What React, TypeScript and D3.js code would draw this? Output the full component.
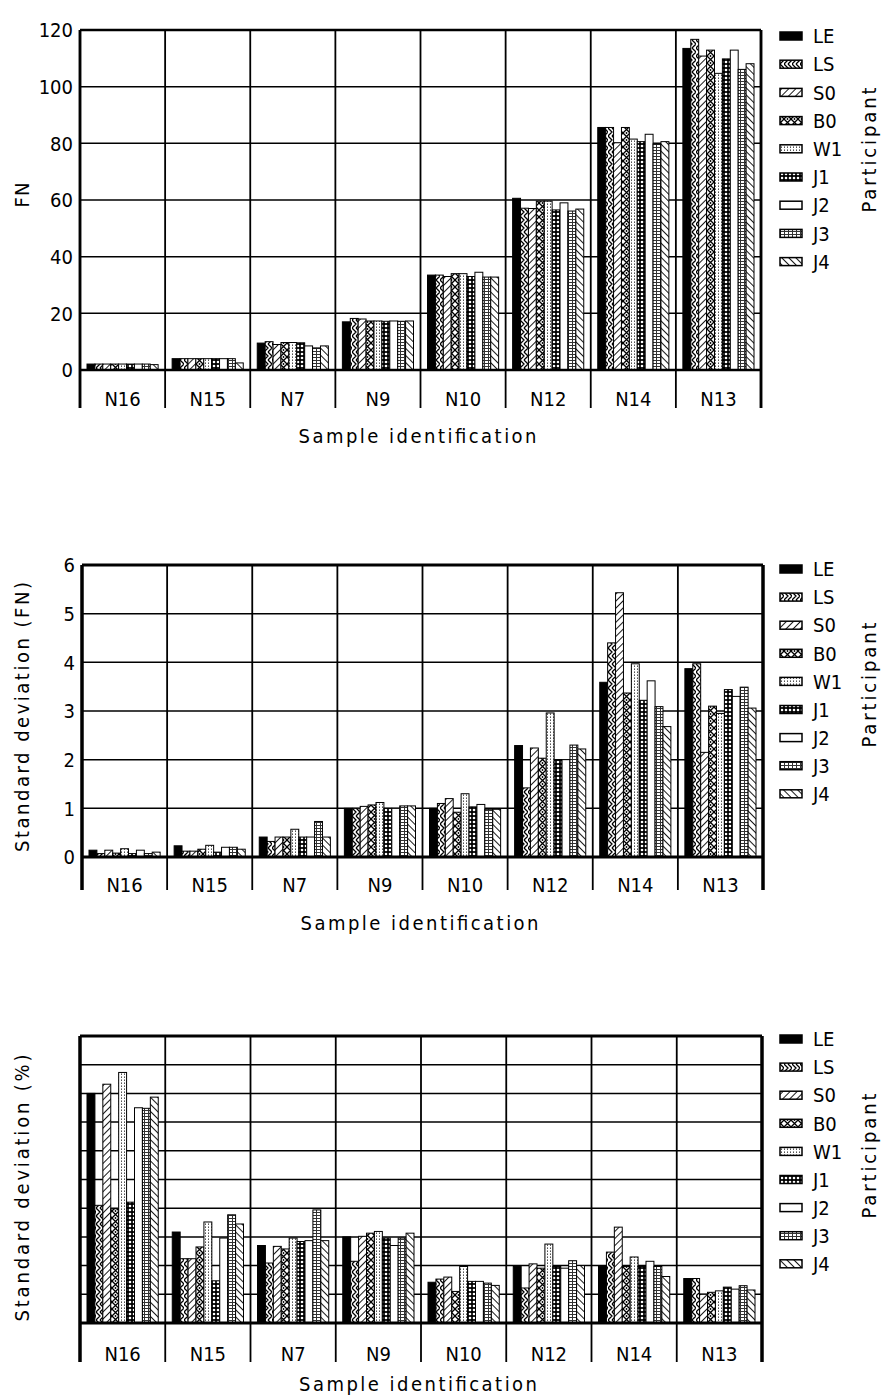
import React from "react";
import * as d3 from "d3";

const categories = ["N16", "N15", "N7", "N9", "N10", "N12", "N14", "N13"];
const participants = ["LE", "LS", "S0", "B0", "W1", "J1", "J2", "J3", "J4"];

// Mean FN, one row per sample (participant order LE..J4)
const fnMeans = [
  [2.1, 2.1, 2.1, 2.1, 2.1, 2.1, 2.1, 2.1, 1.9],
  [4.0, 4.0, 4.0, 4.0, 4.0, 4.0, 4.0, 4.0, 2.5],
  [9.5, 10.0, 9.0, 9.7, 9.7, 9.6, 8.5, 7.8, 8.5],
  [17.0, 18.2, 18.0, 17.3, 17.3, 17.2, 17.3, 17.2, 17.3],
  [33.5, 33.5, 33.0, 34.0, 34.0, 33.0, 34.5, 32.8, 32.8],
  [60.6, 57.1, 57.0, 59.6, 59.6, 56.5, 59.0, 56.1, 56.8],
  [85.6, 85.6, 80.2, 85.6, 81.5, 80.6, 83.2, 79.8, 80.6],
  [113.5, 116.7, 110.8, 112.9, 104.7, 109.8, 112.9, 106.1, 108.1],
];

// Standard deviation (FN)
const fnStdDev = [
  [0.14, 0.07, 0.14, 0.08, 0.17, 0.07, 0.14, 0.07, 0.1],
  [0.23, 0.12, 0.12, 0.16, 0.24, 0.1, 0.2, 0.2, 0.16],
  [0.41, 0.32, 0.41, 0.41, 0.57, 0.41, 0.41, 0.73, 0.41],
  [1.0, 1.0, 1.04, 1.07, 1.12, 1.0, 1.0, 1.05, 1.05],
  [1.0, 1.1, 1.2, 0.92, 1.3, 1.03, 1.08, 0.98, 0.98],
  [2.29, 1.42, 2.24, 2.03, 2.96, 1.99, 2.0, 2.3, 2.22],
  [3.59, 4.4, 5.43, 3.37, 3.97, 3.22, 3.62, 3.09, 2.68],
  [3.87, 3.97, 2.15, 3.1, 2.95, 3.44, 3.3, 3.49, 3.06],
];

// Standard deviation (%) - unlabeled axis, read in grid units
const pctStdDev = [
  [8.0, 4.1, 8.32, 3.98, 8.73, 4.21, 7.5, 7.48, 7.87],
  [3.17, 2.24, 2.24, 2.65, 3.52, 1.47, 2.96, 3.77, 3.45],
  [2.7, 2.09, 2.67, 2.58, 2.96, 2.84, 2.87, 3.94, 2.87],
  [3.0, 2.15, 3.02, 3.13, 3.19, 2.96, 2.7, 2.96, 3.13],
  [1.42, 1.53, 1.6, 1.1, 1.97, 1.45, 1.45, 1.39, 1.31],
  [1.97, 1.22, 2.06, 1.91, 2.75, 1.97, 1.91, 2.17, 2.0],
  [1.97, 2.47, 3.34, 1.97, 2.3, 1.97, 2.15, 1.97, 1.62],
  [1.55, 1.55, 1.0, 1.07, 1.12, 1.25, 1.18, 1.3, 1.15],
];

const fnTicks = [0, 20, 40, 60, 80, 100, 120];
const sdTicks = [0, 1, 2, 3, 4, 5, 6];
const pctGrid = [0, 1, 2, 3, 4, 5, 6, 7, 8, 9, 10];

const FONT = "'DejaVu Sans Condensed', 'DejaVu Sans', sans-serif";

const fills: Record<string, string> = {
  LE: "#000",
  LS: "url(#pLS)",
  S0: "url(#pS0)",
  B0: "url(#pB0)",
  W1: "url(#pW1)",
  J1: "url(#pJ1)",
  J2: "#fff",
  J3: "url(#pJ3)",
  J4: "url(#pJ4)",
};

function Patterns() {
  return (
    <defs>
      <pattern id="pLS" width="8" height="8" patternUnits="userSpaceOnUse">
        <rect width="8" height="8" fill="#fff" />
        <path d="M0,0 L4,4 L0,8 M4,0 L8,4 L4,8" stroke="#000" strokeWidth="1.3" fill="none" />
      </pattern>
      <pattern id="pS0" width="5" height="5" patternUnits="userSpaceOnUse" patternTransform="rotate(45)">
        <rect width="5" height="5" fill="#fff" />
        <line x1="0" y1="0" x2="0" y2="5" stroke="#000" strokeWidth="1.8" />
      </pattern>
      <pattern id="pJ4" width="5" height="5" patternUnits="userSpaceOnUse" patternTransform="rotate(-45)">
        <rect width="5" height="5" fill="#fff" />
        <line x1="0" y1="0" x2="0" y2="5" stroke="#000" strokeWidth="1.8" />
      </pattern>
      <pattern id="pB0" width="7" height="7" patternUnits="userSpaceOnUse">
        <rect width="7" height="7" fill="#fff" />
        <path d="M0,0 L7,7 M7,0 L0,7" stroke="#000" strokeWidth="1.3" />
        <circle cx="3.5" cy="0" r="0.9" fill="#000" />
        <circle cx="3.5" cy="7" r="0.9" fill="#000" />
      </pattern>
      <pattern id="pW1" width="3" height="3" patternUnits="userSpaceOnUse">
        <rect width="3" height="3" fill="#fff" />
        <rect x="1" y="0" width="1" height="1" fill="#555" />
        <rect x="1" y="2" width="1" height="1" fill="#999" />
      </pattern>
      <pattern id="pJ1" width="4" height="4" patternUnits="userSpaceOnUse">
        <rect width="4" height="4" fill="#000" />
        <circle cx="2" cy="2" r="1.3" fill="#fff" />
      </pattern>
      <pattern id="pJ3" width="4" height="3" patternUnits="userSpaceOnUse">
        <rect width="4" height="3" fill="#fff" />
        <rect x="0" y="0" width="4" height="1" fill="#333" />
        <rect x="0" y="0" width="1" height="3" fill="#333" />
      </pattern>
    </defs>
  );
}

interface PanelProps {
  data: number[][];
  domain: [number, number];
  grid: number[];
  showTickLabels: boolean;
  x0: number;
  x1: number;
  yTop: number;
  yBase: number;
  tickBottom: number;
  catLabelY: number;
  xTitleY: number;
  yTitle: string;
  yTitleLen: number;
  yTitleCenter: number;
  legendY0: number;
  legendStep: number;
  participantY: number;
  frameW: number;
}

function Panel(p: PanelProps) {
  const x = d3.scaleBand<string>().domain(categories).range([p.x0, p.x1]);
  const bw = x.bandwidth();
  const inner = d3.scaleBand<string>().domain(participants).range([7, bw - 7]);
  const y = d3.scaleLinear().domain(p.domain).range([p.yBase, p.yTop]);
  const boundaries = categories.map((c) => x(c) as number).concat([p.x1]);
  return (
    <g>
      {/* horizontal gridlines */}
      {p.grid.map((t) => (
        <line key={"g" + t} x1={p.x0} x2={p.x1} y1={y(t)} y2={y(t)} stroke="#000" strokeWidth={1.5} />
      ))}
      {/* vertical category lines */}
      {boundaries.map((b, i) => (
        <line key={"v" + i} x1={b} x2={b} y1={p.yTop} y2={p.tickBottom} stroke="#000"
          strokeWidth={i === 0 || i === boundaries.length - 1 ? p.frameW : 1.8} />
      ))}
      {/* bars */}
      {categories.map((c, ci) =>
        participants.map((pt, pi) => {
          const v = p.data[ci][pi];
          const bx = (x(c) as number) + (inner(pt) as number);
          return (
            <rect key={c + pt} x={bx} y={y(v)} width={inner.bandwidth()} height={p.yBase - y(v)}
              fill={fills[pt]} stroke="#000" strokeWidth={1} />
          );
        })
      )}
      {/* frame */}
      <line x1={p.x0} x2={p.x1} y1={p.yTop} y2={p.yTop} stroke="#000" strokeWidth={p.frameW} />
      <line x1={p.x0} x2={p.x1} y1={p.yBase} y2={p.yBase} stroke="#000" strokeWidth={p.frameW} />
      <line x1={p.x0} x2={p.x0} y1={p.yTop} y2={p.tickBottom} stroke="#000" strokeWidth={p.frameW} />
      <line x1={p.x1} x2={p.x1} y1={p.yTop} y2={p.tickBottom} stroke="#000" strokeWidth={p.frameW} />
      {/* y tick labels */}
      {p.showTickLabels &&
        p.grid.map((t) => (
          <text key={"t" + t} x={p.x0 - 7} y={y(t)} dy="0.36em" textAnchor="end" fontSize={20} fontFamily={FONT}>
            {t}
          </text>
        ))}
      {/* category labels */}
      {categories.map((c) => (
        <text key={"c" + c} x={(x(c) as number) + bw / 2} y={p.catLabelY} textAnchor="middle" fontSize={20} fontFamily={FONT}>
          {c}
        </text>
      ))}
      <text x={(p.x0 + p.x1) / 2 - 3} y={p.xTitleY} textAnchor="middle" fontSize={20} fontFamily={FONT}
        textLength={238} lengthAdjust="spacing">
        Sample identification
      </text>
      <text transform={`translate(29,${p.yTitleCenter}) rotate(-90)`} textAnchor="middle" fontSize={20} fontFamily={FONT}
        textLength={p.yTitleLen} lengthAdjust="spacing">
        {p.yTitle}
      </text>
      {/* legend */}
      {participants.map((pt, i) => {
        const ly = p.legendY0 + i * p.legendStep;
        return (
          <g key={"l" + pt}>
            <rect x={780} y={ly - 4} width={22} height={8} fill={fills[pt]} stroke="#000" strokeWidth={1.5} />
            <text x={813} y={ly} dy="0.36em" fontSize={20} fontFamily={FONT}>
              {pt}
            </text>
          </g>
        );
      })}
      <text transform={`translate(876,${p.participantY}) rotate(-90)`} textAnchor="middle" fontSize={20} fontFamily={FONT}
        textLength={125} lengthAdjust="spacing">
        Participant
      </text>
    </g>
  );
}

export default function App() {
  return (
    <svg width={887} height={1400} style={{ position: "absolute", left: 0, top: 0, background: "#fff" }}>
      <rect width={887} height={1400} fill="#fff" />
      <Patterns />
      <Panel data={fnMeans} domain={[0, 120]} grid={fnTicks} showTickLabels={true}
        x0={80} x1={761} yTop={30} yBase={370} tickBottom={408} catLabelY={406} xTitleY={443}
        yTitle="FN" yTitleLen={25} yTitleCenter={195} legendY0={36} legendStep={28.2} participantY={150} frameW={2.5} />
      <Panel data={fnStdDev} domain={[0, 6]} grid={sdTicks} showTickLabels={true}
        x0={82} x1={763} yTop={565} yBase={857} tickBottom={890} catLabelY={892} xTitleY={930}
        yTitle="Standard deviation (FN)" yTitleLen={270} yTitleCenter={717} legendY0={569} legendStep={28.1} participantY={685} frameW={3} />
      <Panel data={pctStdDev} domain={[0, 10]} grid={pctGrid} showTickLabels={false}
        x0={80} x1={762} yTop={1036} yBase={1323} tickBottom={1362} catLabelY={1361} xTitleY={1391}
        yTitle="Standard deviation (%)" yTitleLen={267} yTitleCenter={1188} legendY0={1039} legendStep={28.1} participantY={1156} frameW={3} />
    </svg>
  );
}
